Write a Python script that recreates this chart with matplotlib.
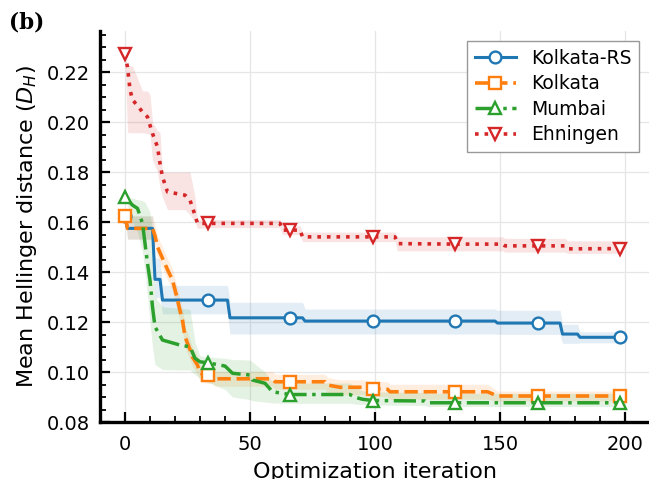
import matplotlib
matplotlib.use("Agg")
import matplotlib.pyplot as plt
from matplotlib.ticker import MultipleLocator

# mean best-so-far distance per optimization iteration (knots)
rs_x = [0, 1, 11, 12, 14, 15, 33, 41, 42, 66, 71, 72, 99, 132, 148, 149, 165, 174, 175, 181, 182, 198, 199]
rs_y = [0.1624, 0.1575, 0.1575, 0.1371, 0.1371, 0.1288, 0.1288, 0.1288, 0.1217, 0.1217, 0.1217, 0.1204,
        0.1204, 0.1204, 0.1204, 0.1196, 0.1196, 0.1196, 0.1152, 0.1152, 0.1139, 0.1139, 0.1139]
rs_lo = [0.1624, 0.1532, 0.1532, 0.1296, 0.1300, 0.1233, 0.1233, 0.1233, 0.1152, 0.1152, 0.1152, 0.1152,
         0.1152, 0.1152, 0.1152, 0.1151, 0.1151, 0.1151, 0.1115, 0.1115, 0.1117, 0.1117, 0.1117]
rs_hi = [0.1624, 0.1625, 0.1625, 0.1460, 0.1450, 0.1347, 0.1347, 0.1347, 0.1279, 0.1279, 0.1279, 0.1252,
         0.1252, 0.1252, 0.1252, 0.1247, 0.1247, 0.1247, 0.1191, 0.1191, 0.1161, 0.1161, 0.1161]

kol_x = [0, 1, 11, 12, 13, 15, 17, 19, 21, 22, 23, 24, 26, 27, 29, 30, 33, 35, 36, 59, 60, 66, 80,
         81, 86, 95, 99, 105, 106, 132, 145, 149, 165, 198, 199]
kol_y = [0.1624, 0.1575, 0.1575, 0.1545, 0.1501, 0.1455, 0.1410, 0.1368, 0.1290, 0.1245, 0.1208, 0.1141,
         0.1090, 0.1060, 0.1028, 0.0995, 0.0988, 0.0988, 0.0973, 0.0973, 0.0961, 0.0961, 0.0961,
         0.0948, 0.0939, 0.0939, 0.0933, 0.0931, 0.0921, 0.0921, 0.0921, 0.0904, 0.0904, 0.0904, 0.0904]
kol_lo = [0.1624, 0.1532, 0.1532, 0.1505, 0.1460, 0.1415, 0.1370, 0.1325, 0.1245, 0.1200, 0.1165, 0.1100,
          0.1050, 0.1022, 0.0992, 0.0962, 0.0955, 0.0955, 0.0943, 0.0943, 0.0931, 0.0931, 0.0931,
          0.0918, 0.0909, 0.0909, 0.0903, 0.0901, 0.0891, 0.0891, 0.0891, 0.0884, 0.0884, 0.0884, 0.0884]
kol_hi = [0.1624, 0.1625, 0.1625, 0.1590, 0.1545, 0.1500, 0.1455, 0.1412, 0.1335, 0.1290, 0.1250, 0.1185,
          0.1130, 0.1100, 0.1065, 0.1030, 0.1021, 0.1021, 0.1003, 0.1003, 0.0991, 0.0991, 0.0991,
          0.0978, 0.0969, 0.0969, 0.0963, 0.0961, 0.0951, 0.0951, 0.0951, 0.0924, 0.0924, 0.0924, 0.0924]

mum_x = [0, 3, 5, 7, 8, 9, 10, 11, 12, 15, 22, 26, 28, 30, 33, 40, 43, 50, 51, 56, 59, 66, 90, 92,
         95, 99, 120, 121, 132, 165, 198, 199]
mum_y = [0.1700, 0.1668, 0.1655, 0.1595, 0.1515, 0.1435, 0.1368, 0.1261, 0.1181, 0.1128, 0.1108, 0.1101,
         0.1055, 0.1041, 0.1037, 0.1024, 0.0995, 0.0988, 0.0968, 0.0955, 0.0921, 0.0910, 0.0910, 0.0899,
         0.0891, 0.0886, 0.0884, 0.0877, 0.0877, 0.0877, 0.0877, 0.0877]
mum_lo = [0.1700, 0.1600, 0.1560, 0.1480, 0.1400, 0.1300, 0.1200, 0.1100, 0.1030, 0.1010, 0.1008, 0.1008,
          0.0990, 0.0975, 0.0960, 0.0930, 0.0900, 0.0890, 0.0885, 0.0880, 0.0876, 0.0875, 0.0875, 0.0872,
          0.0870, 0.0868, 0.0866, 0.0862, 0.0862, 0.0862, 0.0862, 0.0862]
mum_hi = [0.1700, 0.1696, 0.1690, 0.1685, 0.1680, 0.1660, 0.1640, 0.1560, 0.1300, 0.1261, 0.1255, 0.1250,
          0.1120, 0.1065, 0.1061, 0.1055, 0.1050, 0.1048, 0.1040, 0.1000, 0.0960, 0.0956, 0.0956, 0.0940,
          0.0925, 0.0921, 0.0918, 0.0915, 0.0915, 0.0915, 0.0915, 0.0915]

ehn_x = [0, 1, 2, 3, 7, 9, 10, 11, 13, 14, 15, 17, 24, 26, 28, 29, 33, 62, 63, 66, 70, 71, 99, 108,
         109, 132, 151, 152, 165, 176, 177, 198, 199]
ehn_y = [0.2272, 0.2221, 0.2130, 0.2090, 0.2041, 0.2021, 0.1988, 0.1955, 0.1901, 0.1835, 0.1781, 0.1721,
         0.1708, 0.1688, 0.1628, 0.1595, 0.1595, 0.1595, 0.1568, 0.1568, 0.1568, 0.1541, 0.1541, 0.1541,
         0.1514, 0.1512, 0.1512, 0.1505, 0.1505, 0.1505, 0.1493, 0.1494, 0.1494]
ehn_lo = [0.2272, 0.1960, 0.1958, 0.1958, 0.1958, 0.1955, 0.1950, 0.1850, 0.1800, 0.1740, 0.1700, 0.1650,
          0.1650, 0.1630, 0.1600, 0.1575, 0.1578, 0.1578, 0.1550, 0.1550, 0.1550, 0.1522, 0.1522, 0.1522,
          0.1485, 0.1485, 0.1485, 0.1480, 0.1480, 0.1480, 0.1475, 0.1475, 0.1475]
ehn_hi = [0.2272, 0.2225, 0.2225, 0.2225, 0.2125, 0.2125, 0.2110, 0.2000, 0.1965, 0.1960, 0.1800, 0.1800,
          0.1800, 0.1800, 0.1700, 0.1610, 0.1610, 0.1610, 0.1585, 0.1585, 0.1585, 0.1560, 0.1560, 0.1560,
          0.1541, 0.1541, 0.1541, 0.1535, 0.1535, 0.1535, 0.1525, 0.1525, 0.1525]

marker_iters = [0, 33, 66, 99, 132, 165, 198]

series = [
    ("Kolkata-RS", rs_x, rs_y, rs_lo, rs_hi, "#1f77b4", "-", "o", 2.2),
    ("Kolkata", kol_x, kol_y, kol_lo, kol_hi, "#ff7f0e", "--", "s", 2.6),
    ("Mumbai", mum_x, mum_y, mum_lo, mum_hi, "#2ca02c", "-.", "^", 2.5),
    ("Ehningen", ehn_x, ehn_y, ehn_lo, ehn_hi, "#d62728", ":", "v", 2.6),
]

plt.rcParams["font.family"] = "DejaVu Sans"
plt.rcParams["mathtext.fontset"] = "dejavusans"

fig = plt.figure(figsize=(6.49, 4.79), dpi=100)
ax = fig.add_axes([100 / 649, 57 / 479, 550 / 649, 391 / 479])

for name, x, y, lo, hi, color, ls, mk, lw in series:
    ax.fill_between(x, lo, hi, color=color, alpha=0.13, lw=0)
    idx = [i for i, v in enumerate(x) if v in marker_iters]
    ax.plot(x, y, ls=ls, color=color, lw=lw, marker=mk, markevery=idx,
            markersize=8.5, markerfacecolor="white", markeredgewidth=1.7, label=name)

ax.set_xlim(-10, 210)
ax.set_ylim(0.08, 0.2365)
ax.xaxis.set_major_locator(MultipleLocator(50))
ax.xaxis.set_minor_locator(MultipleLocator(10))
ax.yaxis.set_major_locator(MultipleLocator(0.02))
ax.yaxis.set_minor_locator(MultipleLocator(0.005))
ax.yaxis.set_major_formatter(plt.FormatStrFormatter("%.2f"))

for side in ["top", "right"]:
    ax.spines[side].set_visible(False)
for side in ["left", "bottom"]:
    ax.spines[side].set_linewidth(2.4)

ax.tick_params(which="major", direction="in", length=7.5, width=1.6, labelsize=14, pad=7)
ax.tick_params(which="minor", direction="in", length=4.5, width=1.3)
ax.tick_params(axis="x", which="major", pad=9)
ax.grid(True, which="major", color="#e6e6e6", lw=0.9)
ax.set_axisbelow(True)

ax.set_xlabel("Optimization iteration", fontsize=16, labelpad=6)
ax.set_ylabel("Mean Hellinger distance ($D_H$)", fontsize=16, labelpad=6)

leg = ax.legend(loc="upper right", bbox_to_anchor=(0.98, 0.974), borderaxespad=0, fontsize=13.5,
                fancybox=False, framealpha=1, edgecolor="#999999", borderpad=0.4,
                handlelength=2.2, labelspacing=0.35)
leg.get_frame().set_linewidth(1.0)

fig.text(9 / 649, 1 - 11 / 479, "(b)", fontsize=15.5, fontweight="bold", va="top",
         family="DejaVu Serif")

fig.savefig("out.png", dpi=100)
